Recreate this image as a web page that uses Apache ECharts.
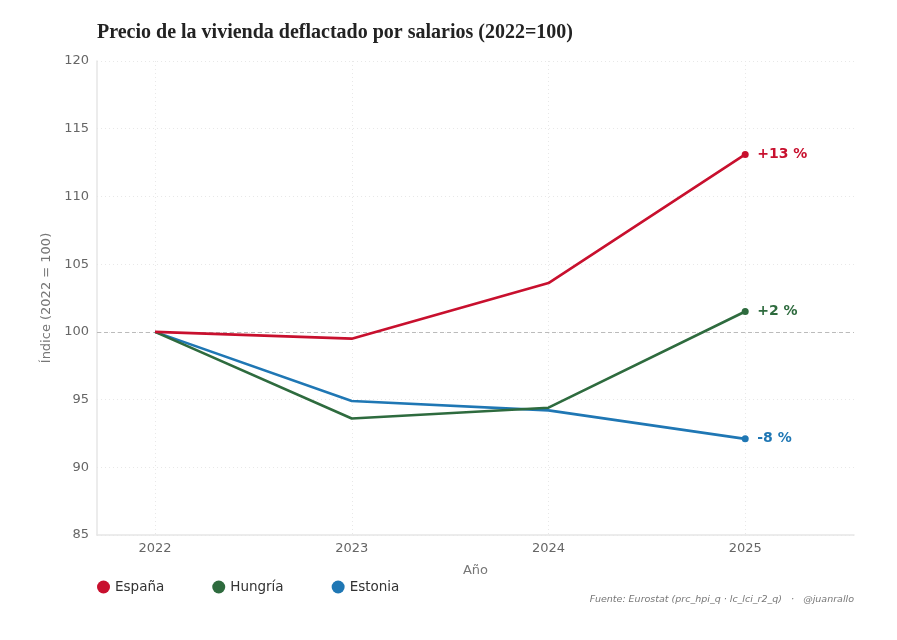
<!DOCTYPE html>
<html>
<head>
<meta charset="utf-8">
<script src="https://cdn.jsdelivr.net/npm/echarts@6/dist/echarts.min.js"></script>
<style>
  html, body { margin: 0; padding: 0; background: #fff; }
  #chart { width: 897px; height: 640px; }
</style>
</head>
<body>
<div id="chart"></div>
<script>
// datos
const years = [2022, 2023, 2024, 2025];
const espana = [100, 99.5, 103.6, 113.1];
const hungria = [100, 93.6, 94.4, 101.5];
const estonia = [100, 94.9, 94.2, 92.1];
const endLabels = ["+13 %", "+2 %", "-8 %"];
const yTicks = [85, 90, 95, 100, 105, 110, 115, 120];

const chart = echarts.init(document.getElementById("chart"));

function pairs(vals) {
  return years.map((y, i) => [y, vals[i]]);
}

function lineSeries(name, vals, color, label, z) {
  return {
    name: name,
    type: "line",
    data: pairs(vals),
    z: z,
    color: color,
    lineStyle: { color: color, width: 2.6 },
    itemStyle: { color: color },
    symbol: "circle",
    symbolSize: (v, p) => (p.dataIndex === years.length - 1 ? 7 : 0),
    showSymbol: true,
    emphasis: { disabled: true },
    endLabel: {
      show: true,
      formatter: label,
      color: color,
      fontWeight: "bold",
      fontSize: 14,
      fontFamily: "DejaVu Sans",
      distance: 12,
    },
  };
}

const option = {
  backgroundColor: "#fff",
  animation: false,
  title: {
    text: "Precio de la vivienda deflactado por salarios (2022=100)",
    left: 92,
    top: 18,
    textStyle: {
      fontFamily: "Liberation Serif",
      fontWeight: "bold",
      fontSize: 20,
      color: "#222",
    },
  },
  grid: { left: 97, right: 43, top: 61, bottom: 105 },
  legend: {
    left: 92,
    top: 575,
    icon: "circle",
    itemWidth: 13,
    itemHeight: 13,
    itemGap: 48,
    textStyle: { fontFamily: "DejaVu Sans", fontSize: 13.5, color: "#333" },
    data: ["España", "Hungría", "Estonia"],
  },
  xAxis: {
    type: "value",
    min: 2021.705,
    max: 2025.553,
    name: "Año",
    nameLocation: "middle",
    nameGap: 29,
    nameTextStyle: { fontFamily: "DejaVu Sans", fontSize: 13, color: "#777" },
    axisLine: { show: true, lineStyle: { color: "#e6e6e6", width: 1.5 } },
    axisTick: { show: false, customValues: years },
    axisLabel: {
      customValues: years,
      margin: 7,
      color: "#666",
      fontSize: 13,
      fontFamily: "DejaVu Sans",
      formatter: (v) => String(v),
    },
    splitLine: {
      show: true,
      lineStyle: { color: "#e8e8e8", type: [1, 3], width: 1 },
    },
  },
  yAxis: {
    type: "value",
    min: 85,
    max: 120,
    interval: 5,
    name: "Índice (2022 = 100)",
    nameLocation: "middle",
    nameGap: 39,
    nameTextStyle: { fontFamily: "DejaVu Sans", fontSize: 13, color: "#777" },
    axisLine: { show: true, lineStyle: { color: "#e6e6e6", width: 1.5 } },
    axisTick: { show: false },
    axisLabel: {
      margin: 8,
      color: "#666",
      fontSize: 13,
      fontFamily: "DejaVu Sans",
      formatter: (v) => (yTicks.includes(v) ? String(v) : ""),
    },
    splitLine: {
      show: true,
      lineStyle: { color: "#e8e8e8", type: [1, 3], width: 1 },
    },
  },
  series: [
    Object.assign(lineSeries("España", espana, "#c8102e", endLabels[0], 5), {
      markLine: {
        silent: true,
        symbol: "none",
        label: { show: false },
        lineStyle: { color: "#bbbbbb", type: [4, 3], width: 1 },
        data: [{ yAxis: 100 }],
        z: 1,
      },
    }),
    lineSeries("Hungría", hungria, "#2e6b3e", endLabels[1], 4),
    lineSeries("Estonia", estonia, "#1f77b4", endLabels[2], 3),
  ],
  graphic: [
    {
      type: "text",
      right: 43,
      top: 595,
      style: {
        text: "Fuente: Eurostat (prc_hpi_q · lc_lci_r2_q)   ·   @juanrallo",
        fontFamily: "DejaVu Sans",
        fontStyle: "italic",
        fontSize: 9.5,
        fill: "#777",
      },
    },
  ],
};

chart.setOption(option);
</script>
</body>
</html>
